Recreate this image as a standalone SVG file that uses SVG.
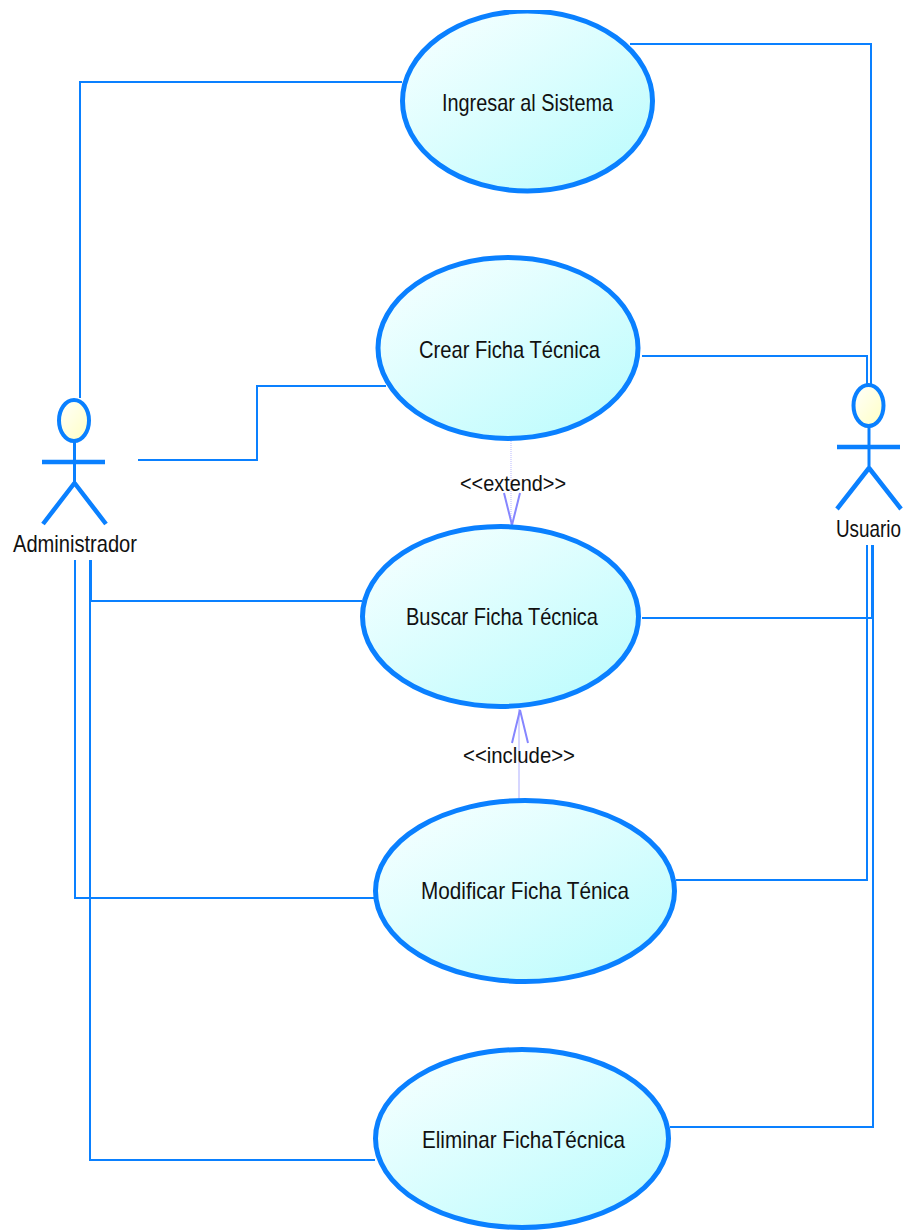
<svg xmlns="http://www.w3.org/2000/svg" width="906" height="1230" viewBox="0 0 906 1230">
<style>
.uc{fill:url(#ucg);stroke:#0a80ff;stroke-width:5}
.head{fill:url(#hg);stroke:#0a80ff;stroke-width:4}
.conn{fill:none;stroke:#0a80ff;stroke-width:2}
.body{fill:none;stroke:#0a80ff;stroke-width:3}
.arm{fill:none;stroke:#0a80ff;stroke-width:4.5}
.dep{fill:none;stroke:#b9b9ff;stroke-width:1;stroke-dasharray:1 1}
.dep2{fill:none;stroke:#c8c8ff;stroke-width:1.500}
.arrow{fill:none;stroke:#8686ff;stroke-width:2}
text{font-family:"Liberation Sans",Arial,sans-serif;font-size:24px;fill:#111}
.lbl{font-size:22px}
</style>
<defs>
<linearGradient id="ucg" x1="0.15" y1="0.1" x2="0.85" y2="0.9"><stop offset="0" stop-color="#f2ffff"/><stop offset="1" stop-color="#c0fcfd"/></linearGradient>
<linearGradient id="hg" x1="0.1" y1="0.1" x2="0.9" y2="0.9"><stop offset="0" stop-color="#fffff8"/><stop offset="1" stop-color="#ffffc8"/></linearGradient>
<clipPath id="clipTop"><rect x="0" y="10" width="906" height="1220"/></clipPath>
</defs>
<g id="connectors">
<path class="conn" d="M402 82H80V398"/>
<path class="conn" d="M386 386H257V460H138"/>
<path class="conn" d="M362 601H91V560"/>
<path class="conn" d="M375 898H75V560"/>
<path class="conn" d="M375 1160H90V560"/>
<path class="conn" d="M630 44H871V385"/>
<path class="conn" d="M642 356H867V385"/>
<path class="conn" d="M642 618H872V545"/>
<path class="conn" d="M676 880H867V545"/>
<path class="conn" d="M670 1127H873V545"/>
<path class="dep" d="M511 441V525"/>
<path class="arrow" d="M504 493L512 525L520 493"/>
<path class="dep2" d="M519 799V709"/>
<path class="arrow" d="M512 743L520 710L528 743"/>
</g>
<g id="uc-ingresar">
<ellipse class="uc" cx="527.500" cy="101" rx="125" ry="90" clip-path="url(#clipTop)"/>
<text x="442" y="111" textLength="171" lengthAdjust="spacingAndGlyphs">Ingresar al Sistema</text>
</g>
<g id="uc-crear">
<ellipse class="uc" cx="508" cy="348" rx="130" ry="90.500"/>
<text x="419" y="358" textLength="181" lengthAdjust="spacingAndGlyphs">Crear Ficha Técnica</text>
</g>
<g id="uc-buscar">
<ellipse class="uc" cx="500.500" cy="616.500" rx="138" ry="90"/>
<text x="406" y="625" textLength="192" lengthAdjust="spacingAndGlyphs">Buscar Ficha Técnica</text>
</g>
<g id="uc-modificar">
<ellipse class="uc" cx="525" cy="891" rx="149.500" ry="90.500"/>
<text x="421" y="899" textLength="208" lengthAdjust="spacingAndGlyphs">Modificar Ficha Ténica</text>
</g>
<g id="uc-eliminar">
<ellipse class="uc" cx="522" cy="1138.500" rx="146.500" ry="89"/>
<text x="422" y="1148" textLength="203" lengthAdjust="spacingAndGlyphs">Eliminar FichaTécnica</text>
</g>
<g id="actor-administrador">
<ellipse class="head" cx="74" cy="420.500" rx="15" ry="20.500"/>
<path class="body" d="M74.500 441V482"/>
<path class="arm" d="M42 462H105"/>
<path class="arm" d="M43 524L74.500 483L106 524" stroke-linejoin="bevel"/>
<text x="13" y="552" textLength="124" lengthAdjust="spacingAndGlyphs">Administrador</text>
</g>
<g id="actor-usuario">
<ellipse class="head" cx="868.500" cy="405.500" rx="15" ry="20.500"/>
<path class="body" d="M869 426V467"/>
<path class="arm" d="M837 447H900"/>
<path class="arm" d="M837 509L869 468L901 509" stroke-linejoin="bevel"/>
<text transform="translate(836 537) scale(0.786 1)">Usuario</text>
</g>
<g id="labels">
<text class="lbl" x="460" y="491" textLength="106" lengthAdjust="spacingAndGlyphs">&lt;&lt;extend&gt;&gt;</text>
<text class="lbl" x="463" y="763" textLength="112" lengthAdjust="spacingAndGlyphs">&lt;&lt;include&gt;&gt;</text>
</g>
</svg>
